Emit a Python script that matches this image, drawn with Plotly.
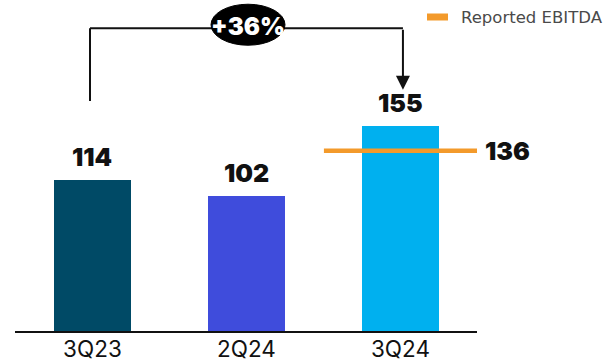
import plotly.graph_objects as go

# Quarterly adjusted EBITDA and the reported figure for the latest quarter
quarters = ["3Q23", "2Q24", "3Q24"]
ebitda = [114, 102, 155]
bar_colors = ["#004A66", "#3F4CDC", "#00B0EF"]
reported_ebitda = 136
growth_label = "+36%"
legend_label = "Reported EBITDA"

x_pos = list(range(len(quarters)))
label_font = dict(family="Inter", size=25, color="#111111", weight=900)

# pixel scale helpers for the decorative bracket (plot area: 462 x 331 px)
px_x = 3.0 / 462
px_y = 249.8 / 331

fig = go.Figure()
fig.add_trace(go.Bar(
    x=x_pos, y=ebitda, width=0.5,
    marker=dict(color=bar_colors, line=dict(width=0)),
    showlegend=False, hoverinfo="skip",
))

# Reported EBITDA marker across the last bar
last = x_pos[-1]
fig.add_trace(go.Scatter(
    x=[last - 0.497, last + 0.497], y=[reported_ebitda, reported_ebitda],
    mode="lines", line=dict(color="#F39A2B", width=4.5),
    showlegend=False, hoverinfo="skip",
))

annotations = []
for xi, v in zip(x_pos, ebitda):
    annotations.append(dict(
        x=xi, y=v, text=str(v), showarrow=False,
        xanchor="center", yanchor="bottom", yshift=6, font=label_font,
    ))
annotations.append(dict(
    x=last + 0.497, y=reported_ebitda, text=str(reported_ebitda), showarrow=False,
    xanchor="left", yanchor="middle", xshift=6, font=label_font,
))

# Growth bracket from first to last quarter
top = 228.5
mid = 1.01
shapes = [
    dict(type="line", x0=-0.016, x1=-0.016, y0=173.5, y1=top,
         line=dict(color="#111111", width=2)),
    dict(type="line", x0=-0.016, x1=last + 0.016, y0=top, y1=top,
         line=dict(color="#111111", width=2)),
    dict(type="circle", xref="x", yref="y",
         x0=mid - 37 * px_x, x1=mid + 37 * px_x,
         y0=top - 17 * px_y, y1=top + 24 * px_y,
         fillcolor="#000000", line=dict(color="#000000", width=1)),
    # legend swatch
    dict(type="line", xref="paper", yref="paper",
         x0=(427 - 15) / 462, x1=(448 - 15) / 462,
         y0=(331 - 17) / 331, y1=(331 - 17) / 331,
         line=dict(color="#F39A2B", width=7)),
]
annotations.append(dict(
    x=last + 0.016, y=182, ax=last + 0.016, ay=top,
    xref="x", yref="y", axref="x", ayref="y", text="",
    showarrow=True, arrowhead=2, arrowsize=1.4, arrowwidth=2, arrowcolor="#111111",
))
annotations.append(dict(
    x=mid, y=top + 2 * px_y, text=growth_label, showarrow=False,
    font=dict(family="Inter", size=24, color="#ffffff", weight=900),
))
annotations.append(dict(
    xref="paper", yref="paper", x=(459 - 15) / 462, y=(331 - 18) / 331,
    text=legend_label, showarrow=False, xanchor="left", yanchor="middle",
    font=dict(family="DejaVu Sans", size=16.5, color="#4a4a4a"),
))

fig.update_layout(
    width=612, height=364,
    margin=dict(l=15, r=135, t=0, b=33),
    paper_bgcolor="white", plot_bgcolor="white",
    bargap=0, shapes=shapes, annotations=annotations,
    xaxis=dict(
        range=[-0.503, 2.497], tickvals=x_pos, ticktext=quarters,
        showgrid=False, zeroline=False, showline=True, automargin=False,
        linecolor="#111111", linewidth=2, ticks="", ticklabelstandoff=-3,
        tickfont=dict(family="Inter", size=22.5, color="#111111"),
    ),
    yaxis=dict(range=[0, 249.8], visible=False, showgrid=False, zeroline=False),
)

fig.write_html("out.html")
